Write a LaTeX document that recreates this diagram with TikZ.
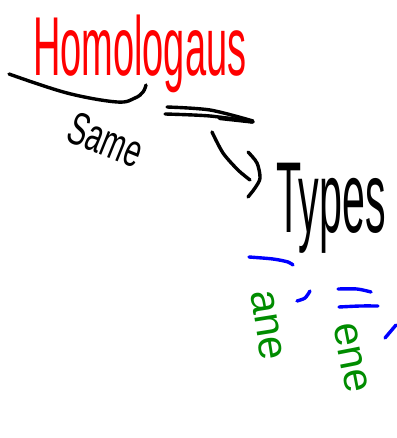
\documentclass[tikz,border=0pt]{standalone}
\usepackage{fontspec}
\setmainfont{Liberation Sans}
\definecolor{inkred}{RGB}{255,0,0}
\definecolor{inkblue}{RGB}{0,0,255}
\definecolor{inkgreen}{RGB}{0,140,0}
\begin{document}
\begin{tikzpicture}[x=1pt,y=-1pt,
  pen/.style={line width=3.4pt,line cap=round,line join=round},
  hand/.style={inner sep=0pt,outer sep=0pt}]
\useasboundingbox (0,0) rectangle (396,438);
% title
\node[hand,anchor=base west,text=inkred,font=\fontsize{38}{38}\selectfont] (title) at (33,76) {\scalebox{1}[2.2]{Homologaus}};
% underline curve
\draw[pen,black] plot[smooth,tension=0.6] coordinates {(9,74) (67,93) (117,102) (135,98) (143,92) (146,85)};
% Same
\node[hand,text=black,rotate=-22,font=\fontsize{29}{29}\selectfont] (same) at (106,140) {\scalebox{1}[1.6]{Same}};
% double line
\draw[pen,black] plot[smooth] coordinates {(167,107) (210,110) (253,121)};
\draw[pen,black] plot[smooth] coordinates {(165,114) (210,116) (253,122)};
\draw[pen,black,line width=4.4pt] (220,118) -- (252,121.5);
% hook arrow
\draw[pen,black] plot[smooth] coordinates {(212,132) (223,153) (238,170) (250,180)};
\draw[pen,black] plot[smooth] coordinates {(248,152) (257,163) (260,178) (255,188) (248,197)};
% Types
\node[hand,anchor=base west,text=black,font=\fontsize{42}{42}\selectfont] (types) at (276,232) {\scalebox{0.98}[2.4]{Types}};
% blue strokes
\draw[pen,inkblue] plot[smooth] coordinates {(249,257) (273,259) (288,262) (293,265)};
\draw[pen,inkblue] plot[smooth] coordinates {(297,301) (305,298) (310,291)};
\draw[pen,inkblue] plot[smooth] coordinates {(338,289) (357,289) (371,292)};
\draw[pen,inkblue] plot[smooth] coordinates {(339,307) (360,306) (378,306)};
\draw[pen,inkblue] (385,338) -- (396,325);
% green words
\node[hand,text=inkgreen,rotate=-81,font=\fontsize{42}{42}\selectfont] (ane) at (267,325) {ane};
\node[hand,text=inkgreen,rotate=-79,font=\fontsize{42}{42}\selectfont] (ene) at (351,358) {ene};
\end{tikzpicture}
\end{document}
